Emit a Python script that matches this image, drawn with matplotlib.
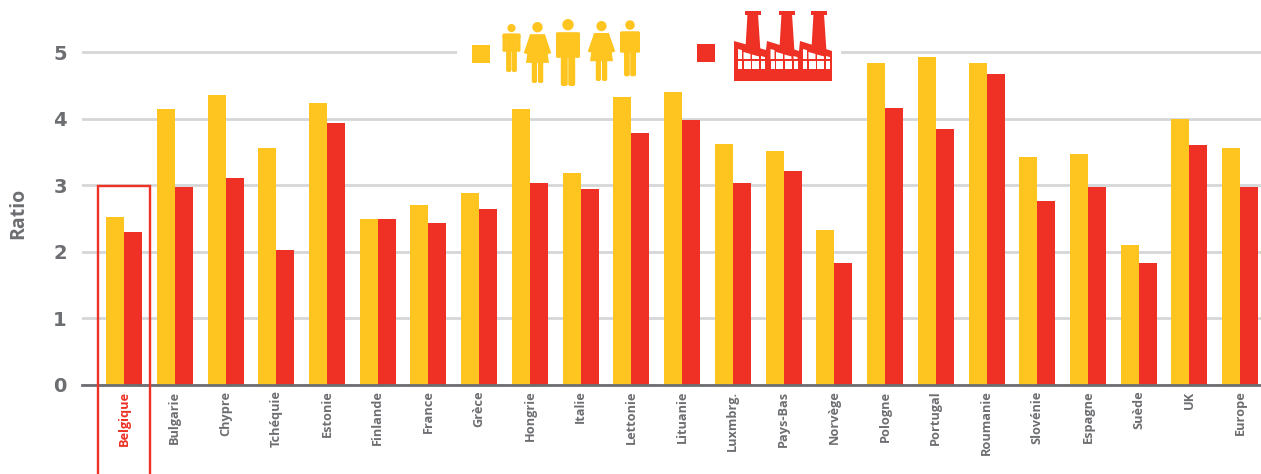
import matplotlib
matplotlib.use("Agg")
import matplotlib.pyplot as plt
from matplotlib.patches import Rectangle, Polygon, Circle, FancyBboxPatch
import numpy as np

countries = ["Belgique","Bulgarie","Chypre","Tchéquie","Estonie","Finlande","France","Grèce","Hongrie","Italie",
             "Lettonie","Lituanie","Luxmbrg.","Pays-Bas","Norvège","Pologne","Portugal","Roumanie","Slovénie",
             "Espagne","Suède","UK","Europe"]
people = [2.52,4.15,4.36,3.56,4.24,2.49,2.70,2.89,4.15,3.18,4.33,4.40,3.62,3.51,2.33,4.84,4.93,4.84,3.42,3.47,2.10,3.99,3.56]
factory = [2.30,2.97,3.11,2.03,3.94,2.49,2.43,2.64,3.03,2.94,3.79,3.98,3.03,3.22,1.83,4.16,3.84,4.67,2.76,2.98,1.83,3.61,2.98]
yticks = [0,1,2,3,4,5]

YEL = "#fec420"; RED = "#ef3024"; GREY = "#6d6e71"; GRID = "#d5d6d8"
W, H = 1261, 474
plt.rcParams['font.family'] = ['Open Sans', 'DejaVu Sans']
fig = plt.figure(figsize=(W/100, H/100), dpi=100)
ax = fig.add_axes([82/W, 1-385/H, (W-82)/W, 350/H])
px = 50.73
ax.set_xlim((82-124.1)/px, (W-124.1)/px)
ax.set_ylim(0, 350/66.6)
x = np.arange(len(countries))
bw = 18/px
ax.bar(x-bw/2, people, bw, color=YEL, zorder=3)
ax.bar(x+bw/2, factory, bw, color=RED, zorder=3)
ax.set_yticks(yticks)
ax.set_yticklabels(yticks, fontsize=14, fontweight='bold', color=GREY, family=['DejaVu Sans'])
ax.set_xticks(x)
ax.set_xticklabels(countries, rotation=90, fontsize=9.2, fontweight='bold', color=GREY, va='top', ha='center')
ax.get_xticklabels()[0].set_color(RED)
ax.tick_params(length=0)
ax.tick_params(axis='x', pad=4)
ax.tick_params(axis='y', pad=11)
ax.grid(axis='y', color=GRID, lw=2.0, zorder=0)
for s in ['top','left','right']:
    ax.spines[s].set_visible(False)
ax.spines['bottom'].set_color(GREY)
ax.spines['bottom'].set_linewidth(2)
ax.spines['bottom'].set_zorder(4)
ax.set_ylabel("Ratio", fontsize=14, fontweight='bold', color=GREY, va='center')
ax.yaxis.set_label_coords((18-82)/(W-82), (385-213)/350)

# overlay in image pixels for the legend and the highlight box
ov = fig.add_axes([0,0,1,1], zorder=5)
ov.set_xlim(0,W); ov.set_ylim(H,0); ov.axis('off'); ov.patch.set_alpha(0)
ov.add_patch(Rectangle((457,30),384,45,fc='white',ec='none'))
ov.plot([97.5,97.5,150,150],[474,186,186,474],color=RED,lw=1.7,solid_joinstyle='miter')
ov.add_patch(Rectangle((472,45),18,18,fc=YEL,ec='none'))
ov.add_patch(Rectangle((697,44),18,18,fc=RED,ec='none'))

def rr(xx,yy,w,h,c,r=1.5):
    ov.add_patch(FancyBboxPatch((xx+r,yy+r),w-2*r,h-2*r,boxstyle=f"round,pad={r}",fc=c,ec='none'))
def man(cx,top,h,wid):
    c=YEL; r=h*0.085
    ov.add_patch(Circle((cx,top+r),r,fc=c,ec='none'))
    b=top+2*r+h*0.03
    rr(cx-wid/2,b,wid,h*0.11,c,2)
    rr(cx-wid/2,b,wid*0.22,h*0.38,c,1.5)
    rr(cx+wid*0.28,b,wid*0.22,h*0.38,c,1.5)
    rr(cx-wid*0.3,b,wid*0.6,h*0.38,c,1)
    rr(cx-wid*0.3,b+h*0.3,wid*0.29,top+h-b-h*0.3,c,2)
    rr(cx+wid*0.01,b+h*0.3,wid*0.29,top+h-b-h*0.3,c,2)
def woman(cx,top,h,wid):
    c=YEL; r=h*0.085
    ov.add_patch(Circle((cx,top+r),r,fc=c,ec='none'))
    b=top+2*r+h*0.03
    ov.add_patch(Polygon([(cx-wid*0.32,b),(cx+wid*0.32,b),(cx+wid*0.5,top+h*0.67),(cx-wid*0.5,top+h*0.67)],fc=c,ec='none'))
    ov.add_patch(Polygon([(cx-wid*0.32,b),(cx-wid*0.22,b+3),(cx-wid*0.42,b+h*0.33),(cx-wid*0.6,b+h*0.31)],fc=c,ec='none'))
    ov.add_patch(Polygon([(cx+wid*0.32,b),(cx+wid*0.22,b+3),(cx+wid*0.42,b+h*0.33),(cx+wid*0.6,b+h*0.31)],fc=c,ec='none'))
    rr(cx-wid*0.25,top+h*0.64,wid*0.23,h*0.36,c,2)
    rr(cx+wid*0.02,top+h*0.64,wid*0.23,h*0.36,c,2)
man(511.5,24,48,18)
woman(537.5,22,61,23)
man(568,19,67,24)
woman(601.5,21,60,23)
man(630,20.3,56,20)

# factory
ov.add_patch(Polygon([(734,41),(766,50),(767,41),(799,51),(800,41),(832,51),(832,81),(734,81)],fc=RED,ec='none'))
for a in [745,779,811]:
    ov.add_patch(Rectangle((a,11),15.5,3.5,fc=RED,ec='none'))
    ov.add_patch(Polygon([(a+2.5,14),(a+13,14),(a+15.5,52),(a+0.5,48)],fc=RED,ec='none'))
for off in [0,32.5,65]:
    for dx,w,top in [(4,4,49),(9.5,7,52),(18,7,54.5),(27,4,56)]:
        slope = 0.28*w
        ov.add_patch(Polygon([(734+off+dx,top),(734+off+dx+w,top+slope),(734+off+dx+w,59),(734+off+dx,59)],fc='white',ec='none'))
        ov.add_patch(Rectangle((734+off+dx,61),w,8,fc='white',ec='none'))
fig.savefig("out.png", dpi=100)
